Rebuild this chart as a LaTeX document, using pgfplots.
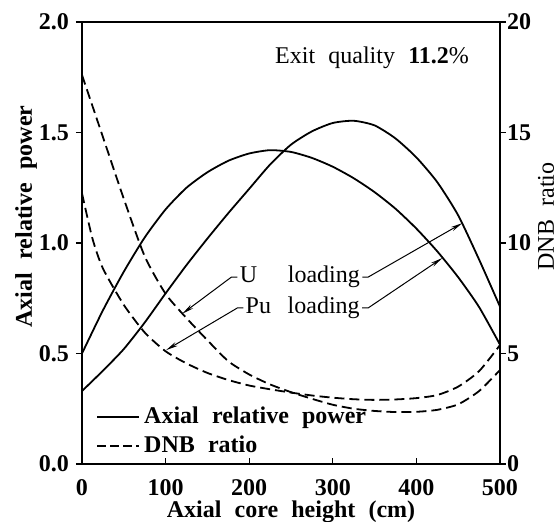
\documentclass[border=0pt]{standalone}
\usepackage{fontspec}
\setmainfont{Liberation Serif}[WordSpace=2.2]
\usepackage{pgfplots}
\pgfplotsset{compat=1.18}
\usetikzlibrary{arrows.meta,calc}

% axial relative power (left axis)
\pgfplotstableread{
x p
0 0.33
25 0.422
50 0.52
75 0.64
100 0.772
125 0.90
150 1.02
175 1.135
200 1.245
225 1.355
250 1.445
275 1.505
300 1.543
325 1.553
350 1.532
375 1.473
400 1.387
425 1.275
450 1.125
475 0.925
500 0.712
}\powU
\pgfplotstableread{
x p
0 0.50
25 0.695
50 0.87
75 1.025
100 1.152
125 1.25
150 1.32
175 1.372
200 1.405
225 1.42
250 1.412
275 1.385
300 1.345
325 1.293
350 1.23
375 1.155
400 1.065
425 0.962
450 0.845
475 0.71
500 0.54
}\powPu
% DNB ratio (right axis)
\pgfplotstableread{
x d
0 17.6
25 14.8
50 12.0
75 9.4
100 7.7
125 6.6
150 5.6
175 4.65
200 4.05
225 3.6
250 3.25
275 2.95
300 2.68
325 2.5
350 2.4
375 2.35
400 2.36
425 2.45
450 2.7
475 3.3
500 4.25
}\dnbU
\pgfplotstableread{
x d
0 12.25
12.5 10.2
25 8.85
50 7.2
75 5.95
100 5.1
125 4.55
150 4.12
175 3.8
200 3.55
225 3.38
250 3.23
275 3.1
300 3.0
325 2.93
350 2.9
375 2.92
400 2.98
425 3.12
450 3.5
475 4.2
500 5.38
}\dnbPu

\begin{document}
\begin{tikzpicture}[font=\fontsize{12}{14}\selectfont]
\pgfplotsset{
  dnb/.style={black, line width=0.9pt, dash pattern=on 5pt off 2.5pt, smooth, tension=0.4},
  pow/.style={black, line width=0.9pt, smooth, tension=0.4},
}
\begin{axis}[name=ax,
  width=209pt, height=221pt, scale only axis,
  xmin=0, xmax=500, ymin=0, ymax=2,
  xtick={0,100,...,500}, ytick={0,0.5,...,2},
  xtick pos=bottom, ytick pos=left,
  tick align=inside, major tick length=3pt,
  every tick/.style={black, line width=0.6pt},
  every y tick/.append style={xshift=-3pt},
  axis line style={line width=0.8pt},
  /pgf/number format/assume math mode=true,
  ticklabel style={font=\fontsize{12}{14}\selectfont\bfseries},
  yticklabel style={/pgf/number format/.cd, fixed, fixed zerofill, precision=1, /tikz/.cd, xshift=-3pt},
  xticklabel style={yshift=-4pt},
  xlabel={\bfseries Axial core height (cm)},
  xlabel style={yshift=4pt},
  ylabel={\bfseries Axial relative power},
  every axis y label/.style={at={(rel axis cs:0,0.56)}, xshift=-28pt, rotate=90, anchor=center},
  legend style={at={(rel axis cs:0,0)}, anchor=south west, xshift=4pt, yshift=0pt,
    draw=none, fill=none, font=\fontsize{12}{14}\selectfont\bfseries, row sep=0.5pt},
  legend cell align=left,
  legend image code/.code={\draw[#1] (0pt,0pt) -- (21pt,0pt);},
]
\addplot[pow] table {\powU};
\addlegendentry{Axial relative power}
\addplot[pow, forget plot] table {\powPu};
\addlegendimage{black, line width=0.9pt, dash pattern=on 4.5pt off 2pt}
\addlegendentry{DNB ratio}

\node at (axis cs:347,1.84) {Exit quality {\bfseries 11.2}\%};
\node[anchor=west, inner sep=1pt] (labU) at (axis cs:186,0.846) {\makebox[24pt][l]{U}loading};
\node[anchor=west, inner sep=1pt] (labPu) at (axis cs:193,0.706) {\makebox[21pt][l]{Pu}loading};
\coordinate (tUd) at (axis cs:120,0.68);
\coordinate (tPud) at (axis cs:100.5,0.515);
\coordinate (tUs) at (axis cs:455,1.09);
\coordinate (tPus) at (axis cs:431,0.932);
\draw[line width=0.5pt, {Stealth[length=6pt,width=2.2pt]}-] (tUd) -- ($(labU.west)+(-3pt,0)$) -- (labU.west);
\draw[line width=0.5pt, {Stealth[length=6pt,width=2.2pt]}-] (tPud) -- ($(labPu.west)+(-3pt,0)$) -- (labPu.west);
\draw[line width=0.5pt, {Stealth[length=6pt,width=2.2pt]}-] (tUs) -- ($(labU.east)+(3pt,0)$) -- (labU.east);
\draw[line width=0.5pt, {Stealth[length=6pt,width=2.2pt]}-] (tPus) -- ($(labPu.east)+(3pt,0)$) -- (labPu.east);
\end{axis}

\begin{axis}[
  width=209pt, height=221pt, scale only axis,
  xmin=0, xmax=500, ymin=0, ymax=20,
  axis x line=none, axis y line*=right,
  ytick={0,5,...,20},
  tick align=inside, major tick length=3pt,
  every tick/.style={black, line width=0.6pt},
  every y tick/.append style={xshift=3pt},
  axis line style={line width=0.8pt},
  /pgf/number format/assume math mode=true,
  ticklabel style={font=\fontsize{12}{14}\selectfont\bfseries},
  ylabel={DNB ratio},
  every axis y label/.style={at={(rel axis cs:1,0.56)}, xshift=23pt, rotate=90, anchor=center},
]
\addplot[dnb] table {\dnbU};
\addplot[dnb] table {\dnbPu};
\end{axis}

\pgfresetboundingbox
\path[use as bounding box] ($(ax.south west)+(-41pt,-29pt)$) rectangle ($(ax.north east)+(29.5pt,11pt)$);
\end{tikzpicture}
\end{document}
